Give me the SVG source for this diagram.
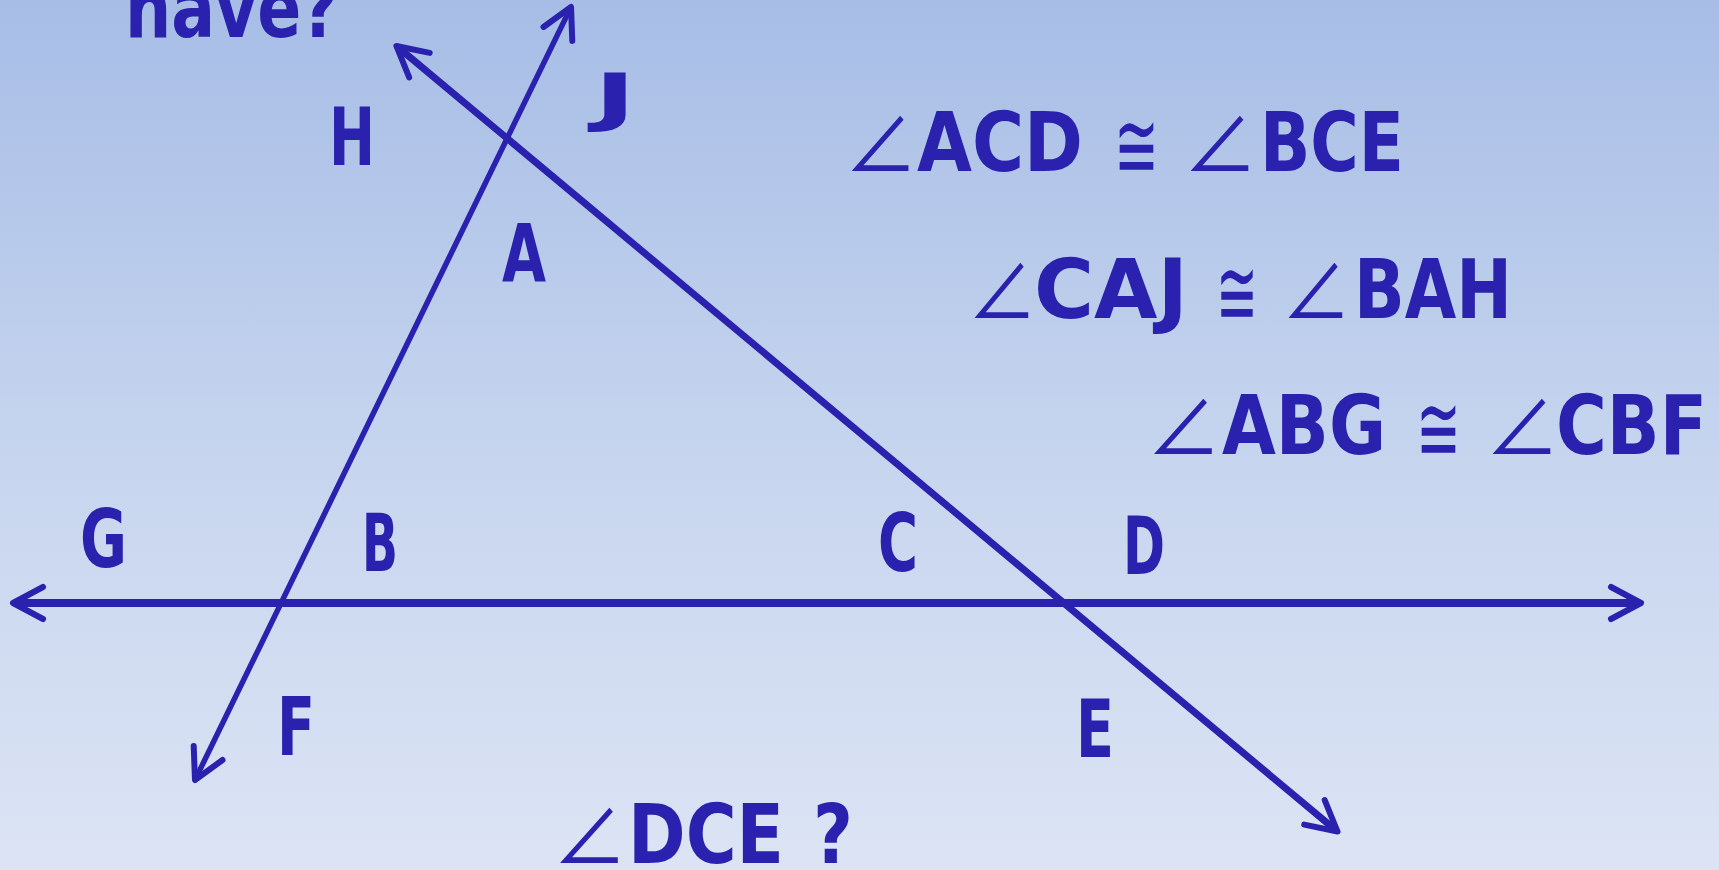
<svg xmlns="http://www.w3.org/2000/svg" width="1719" height="870" viewBox="0 0 1719 870">
<defs>
<linearGradient id="bg" x1="0" y1="0" x2="0" y2="1">
<stop offset="0" stop-color="#A7BDE6"/>
<stop offset="0.5" stop-color="#C5D4EE"/>
<stop offset="1" stop-color="#DCE4F4"/>
</linearGradient>
<marker id="arr" markerUnits="userSpaceOnUse" markerWidth="60" markerHeight="60" refX="0" refY="0" orient="auto-start-reverse" overflow="visible">
<path d="M-24,-16 L6,0 L-24,16" fill="none" stroke="#2A22AE" stroke-width="6" stroke-linecap="round" stroke-linejoin="round"/>
</marker>
<style>
.ln{fill:none;stroke:#2A22AE;marker-start:url(#arr);marker-end:url(#arr)}
.t{font-family:"DejaVu Sans",sans-serif;font-size:80px;font-weight:bold;fill:#2A22AE}
.eq{font-family:"DejaVu Sans",sans-serif;font-size:82px;font-weight:bold;fill:#2A22AE}
.ang{font-family:"Noto Sans CJK JP","DejaVu Sans",sans-serif;font-size:82px;font-weight:400;fill:#2A22AE}
.cong{font-family:"DejaVu Sans",sans-serif;font-size:94px;fill:#2A22AE}
</style>
</defs>
<rect x="0" y="0" width="1719" height="870" fill="url(#bg)"/>
<g id="connectors">
<line class="ln" x1="19" y1="603" x2="1635" y2="603" stroke-width="8"/>
<line class="ln" x1="197.6" y1="774.6" x2="568.4" y2="12.4" stroke-width="5.5"/>
<line class="ln" x1="401" y1="49.8" x2="1332.9" y2="827.7" stroke-width="7"/>
</g>
<g id="title"><text class="eq" x="125" y="37" textLength="214" lengthAdjust="spacingAndGlyphs">have?</text></g>
<g id="node-H"><text class="t" x="329" y="165" textLength="46" lengthAdjust="spacingAndGlyphs">H</text></g>
<g id="node-J"><text class="t" x="594" y="119" style="font-size:64px" textLength="42" lengthAdjust="spacingAndGlyphs">J</text></g>
<g id="node-A"><text class="t" x="502" y="282" textLength="44" lengthAdjust="spacingAndGlyphs">A</text></g>
<g id="node-G"><text class="t" x="80" y="567" textLength="47" lengthAdjust="spacingAndGlyphs">G</text></g>
<g id="node-B"><text class="t" x="362" y="571" textLength="36" lengthAdjust="spacingAndGlyphs">B</text></g>
<g id="node-C"><text class="t" x="878" y="571" textLength="40" lengthAdjust="spacingAndGlyphs">C</text></g>
<g id="node-D"><text class="t" x="1123" y="574" textLength="42" lengthAdjust="spacingAndGlyphs">D</text></g>
<g id="node-F"><text class="t" x="277" y="755" textLength="38" lengthAdjust="spacingAndGlyphs">F</text></g>
<g id="node-E"><text class="t" x="1076" y="757" textLength="38" lengthAdjust="spacingAndGlyphs">E</text></g>
<g id="eq1">
<text class="ang" x="844.5" y="173" textLength="72.7" lengthAdjust="spacingAndGlyphs">∠</text>
<text class="eq" x="917" y="171" textLength="166" lengthAdjust="spacingAndGlyphs">ACD</text>
<text class="cong" x="1114" y="178" textLength="45" lengthAdjust="spacingAndGlyphs">≅</text>
<text class="ang" x="1183.3" y="173" textLength="74" lengthAdjust="spacingAndGlyphs">∠</text>
<text class="eq" x="1260" y="171" textLength="144" lengthAdjust="spacingAndGlyphs">BCE</text>
</g>
<g id="eq2">
<text class="ang" x="967.8" y="320" textLength="68.8" lengthAdjust="spacingAndGlyphs">∠</text>
<text class="eq" x="1034" y="318" textLength="154" lengthAdjust="spacingAndGlyphs">CAJ</text>
<text class="cong" x="1216" y="325" textLength="42" lengthAdjust="spacingAndGlyphs">≅</text>
<text class="ang" x="1281.8" y="320" textLength="68.8" lengthAdjust="spacingAndGlyphs">∠</text>
<text class="eq" x="1354" y="318" textLength="158" lengthAdjust="spacingAndGlyphs">BAH</text>
</g>
<g id="eq3">
<text class="ang" x="1146.8" y="456" textLength="74" lengthAdjust="spacingAndGlyphs">∠</text>
<text class="eq" x="1222" y="454" textLength="164" lengthAdjust="spacingAndGlyphs">ABG</text>
<text class="cong" x="1416" y="461" textLength="45" lengthAdjust="spacingAndGlyphs">≅</text>
<text class="ang" x="1485.3" y="456" textLength="74" lengthAdjust="spacingAndGlyphs">∠</text>
<text class="eq" x="1556" y="454" textLength="151" lengthAdjust="spacingAndGlyphs">CBF</text>
</g>
<g id="question">
<text class="ang" x="552.8" y="865" textLength="74" lengthAdjust="spacingAndGlyphs">∠</text>
<text class="eq" x="628" y="863" textLength="156" lengthAdjust="spacingAndGlyphs">DCE</text>
<text class="eq" x="813" y="863" textLength="40" lengthAdjust="spacingAndGlyphs">?</text>
</g>
</svg>
